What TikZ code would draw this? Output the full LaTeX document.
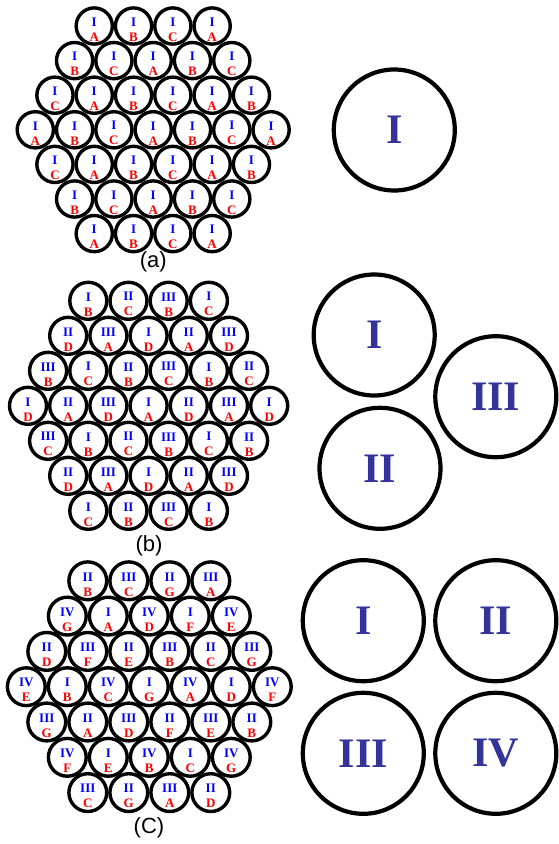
\documentclass[tikz,border=0pt]{standalone}
\usepackage{fontspec}
\setmainfont{Liberation Serif}
\newfontfamily\labfont{Liberation Sans}
\definecolor{numblue}{RGB}{0,0,255}
\definecolor{letred}{RGB}{255,0,0}
\definecolor{bignum}{RGB}{51,51,153}
\tikzset{
  cell/.style={circle, draw=black, line width=3.4pt, inner sep=0pt, minimum size=\pcs pt},
  celltext/.style={align=center, inner sep=0pt, font=\fontsize{13}{15}\selectfont\bfseries},
  bigcell/.style={circle, draw=black, line width=4.2pt, inner sep=0pt, minimum size=121pt,
    text=bignum, font=\fontsize{42}{42}\selectfont\bfseries},
  plabel/.style={inner sep=0pt, font=\labfont\fontsize{22}{22}\selectfont}
}
\newcommand\cellrow[3]{%
  \foreach \nm/\lt [count=\i] in {#3} {
    \pgfmathsetmacro\px{\pcx+(\i-(#2+1)/2)*\pdx}
    \pgfmathsetmacro\py{\ptop+(#1-1)*\pdy}
    \node[cell] (\pname-#1-\i) at (\px,\py) {};
    \node[celltext] (\pname-#1-\i-t) at (\px,\py+3.5) {\textcolor{numblue}{\nm}\\\textcolor{letred}{\lt}};
  }%
}
\begin{document}
\begin{tikzpicture}[x=1pt,y=-1pt]
\useasboundingbox (0,0) rectangle (558,844);
% ---------- panel (a)
\def\pname{a}\def\pcx{153.2}\def\ptop{26}\def\pdx{39.3}\def\pdy{34.6}\def\pcs{36.2}
\cellrow{1}{4}{I/A,I/B,I/C,I/A}
\cellrow{2}{5}{I/B,I/C,I/A,I/B,I/C}
\cellrow{3}{6}{I/C,I/A,I/B,I/C,I/A,I/B}
\cellrow{4}{7}{I/A,I/B,I/C,I/A,I/B,I/C,I/A}
\cellrow{5}{6}{I/C,I/A,I/B,I/C,I/A,I/B}
\cellrow{6}{5}{I/B,I/C,I/A,I/B,I/C}
\cellrow{7}{4}{I/A,I/B,I/C,I/A}
\node[plabel] (la) at (153.3,262.3) {(a)};
\node[bigcell] (aI) at (394.3,130) {I};
% ---------- panel (b)
\def\pname{b}\def\pcx{148.6}\def\ptop{300.8}\def\pdx{40.2}\def\pdy{35}\def\pcs{37.0}
\cellrow{1}{4}{I/B,II/C,III/B,I/C}
\cellrow{2}{5}{II/D,III/A,I/D,II/A,III/D}
\cellrow{3}{6}{III/B,I/C,II/B,III/C,I/B,II/C}
\cellrow{4}{7}{I/D,II/A,III/D,I/A,II/D,III/A,I/D}
\cellrow{5}{6}{III/C,I/B,II/C,III/B,I/C,II/B}
\cellrow{6}{5}{II/D,III/A,I/D,II/A,III/D}
\cellrow{7}{4}{I/C,II/B,III/C,I/B}
\node[plabel] (lb) at (149,546) {(b)};
\node[bigcell] (bI) at (374.2,335) {I};
\node[bigcell] (bIII) at (495.8,396.7) {III};
\node[bigcell] (bII) at (380,468.3) {II};
% ---------- panel (c)
\def\pname{c}\def\pcx{149.3}\def\ptop{580.8}\def\pdx{41}\def\pdy{35.3}\def\pcs{37.8}
\cellrow{1}{4}{II/B,III/C,II/G,III/A}
\cellrow{2}{5}{IV/G,I/A,IV/D,I/F,IV/E}
\cellrow{3}{6}{II/D,III/F,II/E,III/B,II/C,III/G}
\cellrow{4}{7}{IV/E,I/B,IV/C,I/G,IV/A,I/D,IV/F}
\cellrow{5}{6}{III/G,II/A,III/D,II/F,III/E,II/B}
\cellrow{6}{5}{IV/F,I/E,IV/B,I/C,IV/G}
\cellrow{7}{4}{III/C,II/G,III/A,II/D}
\node[plabel] (lc) at (149,827.5) {(C)};
\node[bigcell] (cI) at (363.3,620.7) {I};
\node[bigcell] (cII) at (495.8,620.7) {II};
\node[bigcell] (cIII) at (363.3,753.3) {III};
\node[bigcell] (cIV) at (495.8,753.3) {IV};
\end{tikzpicture}
\end{document}
